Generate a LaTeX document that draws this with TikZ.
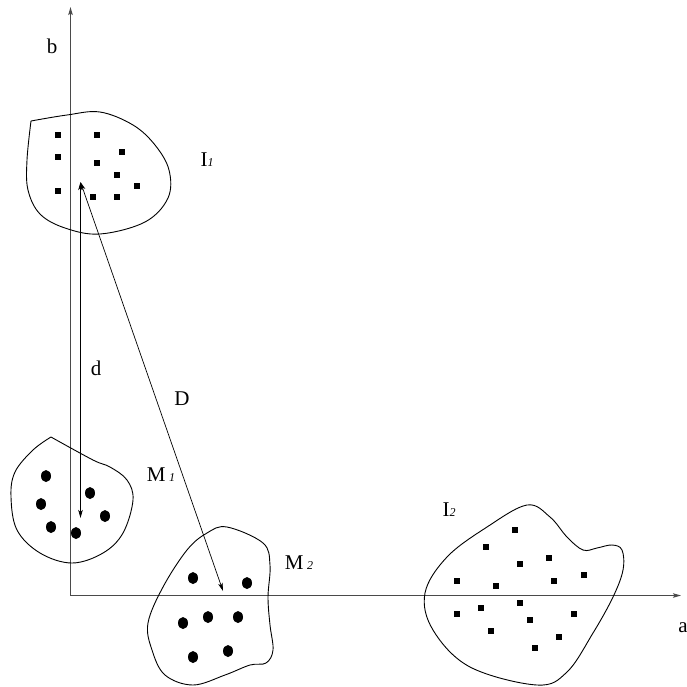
\documentclass[tikz,border=0pt]{standalone}
\usepackage{fontspec}
\setmainfont{Liberation Serif}
\usetikzlibrary{arrows.meta}
\definecolor{AxisGray}{HTML}{4A4A4A}
\definecolor{Ink}{HTML}{000000}
\newcommand{\subs}[1]{{\fontsize{12}{12}\selectfont\itshape #1}}

\begin{document}
\begin{tikzpicture}[x=1pt,y=-1pt,
    lbl/.style={inner sep=0pt,text=Ink,font=\fontsize{21}{23}\selectfont},
    axis/.style={AxisGray,line width=1.1pt,-{Stealth[length=8pt,width=4.5pt,inset=1.5pt]}},
    gap/.style={Ink,line width=0.7pt,{Stealth[length=8pt,width=4.5pt,inset=2pt]}-{Stealth[length=8pt,width=4.5pt,inset=2pt]}},
    blob/.style={Ink,line width=0.9pt},
    sq/.style={fill=Ink},
    dot/.style={fill=Ink}]
  \useasboundingbox (0,0) rectangle (687,686);

  % axes
  \coordinate (origin) at (70.5,595.5);
  \coordinate (btip) at (70.5,7);
  \coordinate (atip) at (681,595.5);
  \draw[axis] (origin) -- (btip);
  \draw[axis] (origin) -- (atip);
  \node[lbl] (blabel) at (52,46) {b};
  \node[lbl] (alabel) at (683,628) {a};

  % cluster I1
  \draw[blob] plot[smooth,tension=0.6] coordinates {(31,121) (67,115) (100,112) (133,125) (155,145)
    (169,170) (168,198) (145,222) (100,234) (65,228) (40,214) (28,190) (27,160) (31,121)};
  \foreach \x/\y in {58/135,97/135,58/157,122/152,97/163,117/175,137/186,58/191,93/197,117/197}{
    \fill[sq] (\x-2.8,\y-2.8) rectangle ++(5.6,5.6);
  }
  \node[lbl] (I1) at (207,160) {I\subs{1}};

  % cluster M1
  \draw[blob] plot[smooth,tension=0.6] coordinates {(51,437) (93,460) (110,467) (127,480) (133,500)
    (123,533) (103,553) (72,563) (40,553) (17,530) (11,497) (15,472) (33,450) (51,437)};
  \foreach \x/\y in {46/476,41/504,51/527,76/533,90/493,105/516}{
    \fill[dot] (\x,\y) ellipse [x radius=5pt,y radius=6pt];
  }
  \node[lbl] (M1) at (161,475) {M\,\subs{1}};

  % cluster M2
  \draw[blob] plot[smooth cycle,tension=0.6] coordinates {(227,527) (263,543) (270,565) (268,597)
    (270,625) (273,650) (266,663) (250,665) (225,675) (193,685) (165,675) (152,650) (148,623)
    (163,587) (187,550) (207,533)};
  \foreach \x/\y in {193/578,247/583,183/623,208/617,238/617,193/657,228/651}{
    \fill[dot] (\x,\y) ellipse [x radius=5pt,y radius=6pt];
  }
  \node[lbl] (M2) at (299,563) {M\,\subs{2}};

  % cluster I2
  \draw[blob] plot[smooth cycle,tension=0.6] coordinates {(527,505) (487,527) (447,557) (425,593)
    (433,630) (470,667) (537,685) (567,672) (593,633) (613,597) (623,570) (622,550) (612,545)
    (597,548) (583,550) (567,537) (550,517)};
  \foreach \x/\y in {515/530,486/547,520/564,549/558,584/575,554/581,457/581,496/586,457/614,
    481/608,520/603,530/620,574/614,491/631,559/637,535/648}{
    \fill[sq] (\x-2.8,\y-2.8) rectangle ++(5.6,5.6);
  }
  \node[lbl] (I2) at (449,510) {I\subs{2}};

  % distances
  \coordinate (top) at (80.5,182);
  \coordinate (dend) at (80.5,518);
  \coordinate (Dend) at (223,591);
  \draw[gap] (top) -- (dend);
  \draw[gap] (top) -- (Dend);
  \node[lbl] (dlabel) at (96,368) {d};
  \node[lbl] (Dlabel) at (182,399) {D};
\end{tikzpicture}
\end{document}
